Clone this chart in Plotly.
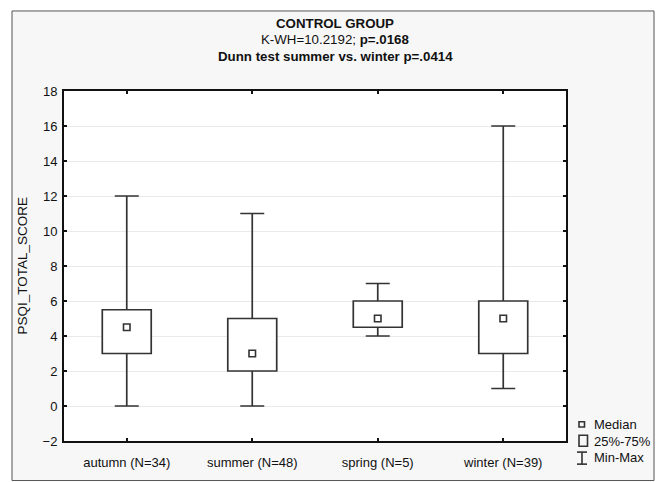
import plotly.graph_objects as go

categories = ["autumn (N=34)", "summer (N=48)", "spring (N=5)", "winter (N=39)"]
minimum = [0, 0, 4, 1]
q1 = [3, 2, 4.5, 3]
median = [4.5, 3, 5, 5]
q3 = [5.5, 5, 6, 6]
maximum = [12, 11, 7, 16]
y_ticks = [-2, 0, 2, 4, 6, 8, 10, 12, 14, 16, 18]

W, H = 658, 482
L, R, T, B = 64, 92, 91, 28
PW, PH = W - L - R, H - T - B
FONT = "Liberation Sans, Arial, sans-serif"
DARK = "#333333"
TXT = "#111111"


def px(x):
    return (x - L) / PW


def py(y):
    return (H - B - y) / PH


fig = go.Figure()

# Min-Max whiskers (transparent bar from 0 to max, error bar down to min)
fig.add_trace(go.Bar(
    x=categories, y=maximum, width=0.39,
    marker=dict(color="rgba(0,0,0,0)", line=dict(width=0)),
    error_y=dict(type="data", symmetric=False,
                 array=[0] * len(maximum),
                 arrayminus=[b - a for a, b in zip(minimum, maximum)],
                 color=DARK, thickness=1.7, width=12),
    hoverinfo="skip", showlegend=False,
))
# 25%-75% boxes
fig.add_trace(go.Bar(
    x=categories, base=q1, y=[b - a for a, b in zip(q1, q3)], width=0.39,
    marker=dict(color="white", line=dict(color=DARK, width=1.7)),
    hoverinfo="skip", showlegend=False,
))
# medians
fig.add_trace(go.Scatter(
    x=categories, y=median, mode="markers",
    marker=dict(symbol="square-open", size=6.5, color=DARK, line=dict(width=1.6, color=DARK)),
    hoverinfo="skip", showlegend=False,
))

shapes = [
    # outer frame (light grey panel)
    dict(type="rect", xref="paper", yref="paper", layer="below",
         x0=px(12), x1=px(654), y0=py(495), y1=py(8),
         fillcolor="#f7f7f7", line=dict(color="#555555", width=1)),
    # white plot area
    dict(type="rect", xref="paper", yref="paper", layer="below",
         x0=0, x1=1, y0=0, y1=1, fillcolor="white", line=dict(width=0)),
    # legend symbols
    dict(type="rect", xref="paper", yref="paper",
         x0=px(579), x1=px(584.5), y0=py(439.5), y1=py(434),
         line=dict(color=DARK, width=1.6), fillcolor="rgba(0,0,0,0)"),
    dict(type="rect", xref="paper", yref="paper",
         x0=px(579), x1=px(587.5), y0=py(459.5), y1=py(448),
         line=dict(color=DARK, width=1.6), fillcolor="rgba(0,0,0,0)"),
    dict(type="line", xref="paper", yref="paper",
         x0=px(582), x1=px(582), y0=py(478), y1=py(465.5), line=dict(color=DARK, width=1.6)),
    dict(type="line", xref="paper", yref="paper",
         x0=px(577), x1=px(587), y0=py(465.5), y1=py(465.5), line=dict(color=DARK, width=1.6)),
    dict(type="line", xref="paper", yref="paper",
         x0=px(577), x1=px(587), y0=py(478), y1=py(478), line=dict(color=DARK, width=1.6)),
]

annotations = [
    dict(text="<b>CONTROL GROUP</b>", x=px(335), y=py(21)),
    dict(text="K-WH=10.2192; <b>p=.0168</b>", x=px(335), y=py(38)),
    dict(text="<b>Dunn test summer vs. winter p=.0414</b>", x=px(335), y=py(55.5)),
]
for a in annotations:
    a.update(xref="paper", yref="paper", showarrow=False, xanchor="center", yanchor="middle",
             font=dict(family=FONT, size=13.3, color=TXT))

legend_items = [("Median", 437), ("25%-75%", 454), ("Min-Max", 471.5)]
for name, ypix in legend_items:
    annotations.append(dict(text=name, x=px(592), y=py(ypix), xref="paper", yref="paper",
                            showarrow=False, xanchor="left", yanchor="middle",
                            font=dict(family=FONT, size=13, color=TXT)))

annotations.append(dict(text="PSQI_TOTAL_SCORE", x=px(23), y=py(272), xref="paper", yref="paper",
                        showarrow=False, textangle=-90, xanchor="center", yanchor="middle",
                        font=dict(family=FONT, size=13.5, color=TXT)))

fig.update_layout(
    width=W, height=H,
    margin=dict(l=L, r=R, t=T, b=B, pad=0),
    paper_bgcolor="white", plot_bgcolor="white",
    font=dict(family=FONT, size=13, color=TXT),
    shapes=shapes, annotations=annotations,
    showlegend=False, barmode="overlay",
)
fig.update_xaxes(
    type="category", range=[-0.5, 3.5],
    showline=True, linecolor="#111111", linewidth=2, mirror="ticks",
    ticks="inside", ticklen=3, tickwidth=1.5, tickcolor="#111111",
    showgrid=False, ticklabelstandoff=8,
    tickfont=dict(family=FONT, size=13, color=TXT),
)
fig.update_yaxes(
    range=[-2, 18], tickvals=y_ticks,
    showline=True, linecolor="#111111", linewidth=2, mirror="ticks",
    ticks="inside", ticklen=3, tickwidth=1.5, tickcolor="#111111",
    showgrid=True, gridcolor="#eaeaea", gridwidth=1, zeroline=False,
    ticklabelstandoff=2,
    tickfont=dict(family=FONT, size=13, color=TXT),
)

fig.write_html("out.html", config={"displayModeBar": False},
               post_script="document.body.style.margin='0';")
